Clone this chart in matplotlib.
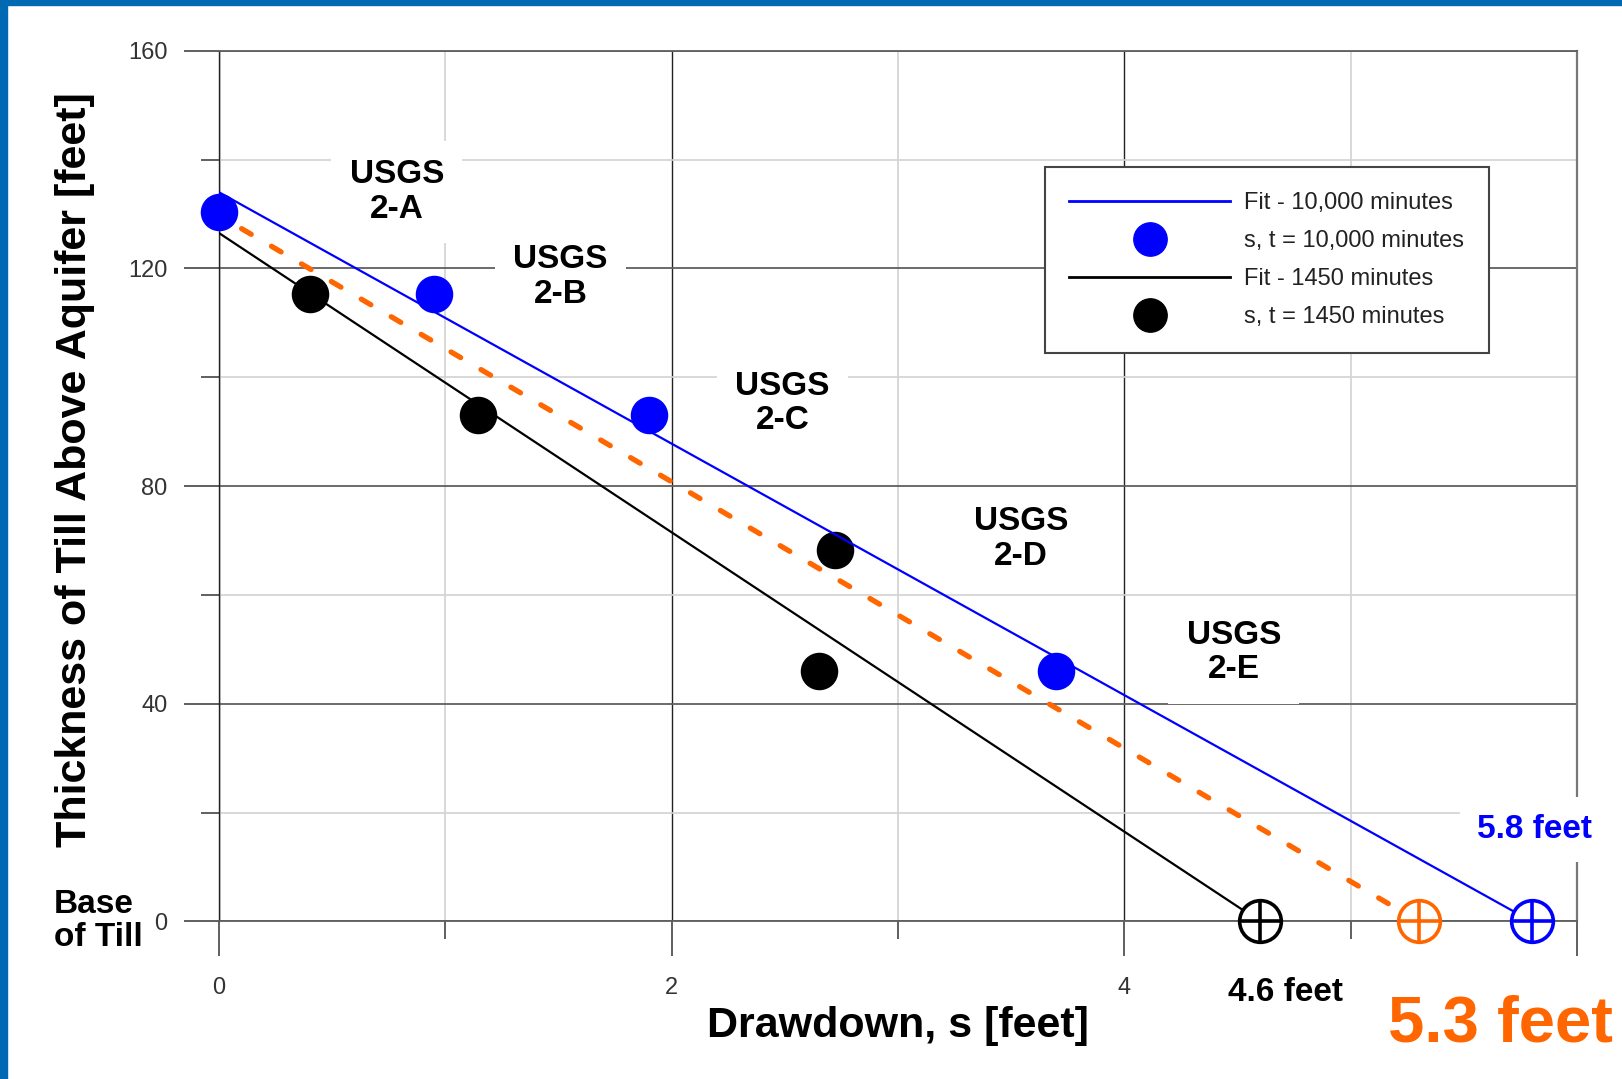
import matplotlib.pyplot as plt
from matplotlib.patches import Rectangle
from matplotlib.lines import Line2D
from matplotlib.ticker import MultipleLocator, FixedLocator

plt.rcParams['font.family'] = ['Liberation Sans', 'DejaVu Sans']
plt.rcParams['lines.scale_dashes'] = False

# observed drawdown vs. till thickness
s_10000 = [0.0, 0.95, 1.90, 3.70]
t_10000 = [130.4, 115.3, 93.1, 46.1]
s_1450 = [0.40, 1.145, 2.72, 2.65]
t_1450 = [115.3, 93.1, 68.3, 46.1]

# fitted lines (start point, base-of-till intercept)
fit_10000_s = [0.0, 5.8]
fit_10000_t = [134.0, 0.0]
fit_1450_s = [0.0, 4.6]
fit_1450_t = [126.5, 0.0]
fit_mid_s = [0.1, 5.3]
fit_mid_t = [127.3, 0.0]

# drawdown at base of till
base_s = [4.6, 5.3, 5.8]
base_labels = ['4.6 feet', '5.3 feet', '5.8 feet']
base_colors = ['black', '#ff6600', '#0000ff']

wells = ['USGS\n2-A', 'USGS\n2-B', 'USGS\n2-C', 'USGS\n2-D', 'USGS\n2-E']
well_x = [0.786, 1.509, 2.49, 3.542, 4.483]
well_y = [134.0, 118.4, 95.2, 70.3, 49.4]

fig = plt.figure(figsize=(16.22, 10.79), dpi=100)
ax = fig.add_axes([0.1350, 0.1460, 0.8373, 0.8070])

# frame strips
fig.patches.append(Rectangle((0, 1 - 5 / 1079), 1, 5 / 1079, transform=fig.transFigure,
                             color='#0069b4', zorder=10))
fig.patches.append(Rectangle((0, 0), 7 / 1622, 1, transform=fig.transFigure,
                             color='#0069b4', zorder=10))

ax.set_xlim(0, 6)
ax.set_ylim(0, 160)
ax.xaxis.set_major_locator(FixedLocator([0, 2, 4, 6]))
ax.xaxis.set_minor_locator(FixedLocator([1, 3, 5]))
ax.set_xticklabels(['0', '2', '4', ''])
ax.yaxis.set_major_locator(MultipleLocator(40))
ax.yaxis.set_minor_locator(FixedLocator([20, 60, 100, 140]))

ax.set_axisbelow(True)
ax.grid(True, which='major', axis='y', color='#5f5f5f', lw=1.3)
ax.grid(True, which='major', axis='x', color='#222222', lw=1.0)
ax.grid(True, which='minor', color='#d2d2d2', lw=1.2)
for side in ['top', 'bottom']:
    ax.spines[side].set_color('#5f5f5f')
    ax.spines[side].set_linewidth(1.3)
ax.spines['left'].set_color('#222222')
ax.spines['left'].set_linewidth(1.0)
ax.spines['right'].set_color('#777777')
ax.spines['right'].set_linewidth(1.6)

ax.tick_params(axis='both', which='major', length=25, width=1.2, color='#444444',
               labelsize=17, labelcolor='#333333')
ax.tick_params(axis='both', which='minor', length=13, width=1.2, color='#444444')
ax.tick_params(axis='y', which='major', pad=12)
ax.tick_params(axis='x', which='major', pad=15)

ax.plot(s_10000, t_10000, 'o', color='#0000ff', ms=26, zorder=3, clip_on=False)
ax.plot(s_1450, t_1450, 'o', color='black', ms=26, zorder=3, clip_on=False)
ax.plot(fit_mid_s, fit_mid_t, color='#ff6600', lw=3.8, dashes=(8, 17),
        dash_capstyle='round', zorder=3.5)
ax.plot(fit_1450_s, fit_1450_t, color='black', lw=1.6, zorder=4)
ax.plot(fit_10000_s, fit_10000_t, color='#0000ff', lw=1.6, zorder=4)

for s, c in zip(base_s, base_colors):
    ax.plot([s], [0], 'o', ms=30, mfc='white', mec=c, mew=2.6, zorder=5, clip_on=False)
    ax.plot([s], [0], '+', ms=30, color=c, mew=2.6, zorder=5, clip_on=False)

for name, x, y in zip(wells, well_x, well_y):
    ax.text(x, y, name, fontsize=24, fontweight='bold', ha='center', va='center',
            linespacing=1.15, zorder=1.5,
            bbox=dict(boxstyle='square,pad=0.55', fc='white', ec='none'))

ax.text(5.812, 16.9, base_labels[2], color=base_colors[2], fontsize=24, fontweight='bold',
        ha='center', va='center', zorder=3,
        bbox=dict(boxstyle='square,pad=0.5', fc='white', ec='none'))
ax.text(4.713, -13.1, base_labels[0], color=base_colors[0], fontsize=24, fontweight='bold',
        ha='center', va='center', clip_on=False)
ax.text(5.663, -19.0, base_labels[1], color=base_colors[1], fontsize=47, fontweight='bold',
        ha='center', va='center', clip_on=False)

fig.text(75 / 1622, 1 - 470 / 1079, 'Thickness of Till Above Aquifer [feet]', rotation=90,
         fontsize=31, fontweight='bold', ha='center', va='center')
fig.text(898 / 1622, 1 - 1026 / 1079, 'Drawdown, s [feet]', fontsize=31, fontweight='bold',
         ha='center', va='center')
fig.text(54 / 1622, 1 - 921 / 1079, 'Base\nof Till', fontsize=24, fontweight='bold',
         ha='left', va='center', linespacing=1.1)

handles = [
    Line2D([], [], color='#0000ff', lw=2),
    Line2D([], [], ls='none', marker='o', color='#0000ff', ms=24),
    Line2D([], [], color='black', lw=2),
    Line2D([], [], ls='none', marker='o', color='black', ms=24),
]
labels = ['Fit - 10,000 minutes', 's, t = 10,000 minutes',
          'Fit - 1450 minutes', 's, t = 1450 minutes']
leg = ax.legend(handles, labels, loc='upper left', bbox_to_anchor=(0.608, 0.866),
                borderaxespad=0, fontsize=17, handlelength=6.8, handletextpad=0.6,
                labelspacing=0.68, borderpad=1.05, fancybox=False, framealpha=1)
leg.get_frame().set_edgecolor('#444444')
leg.get_frame().set_linewidth(1.5)
for t in leg.get_texts():
    t.set_color('#222222')

fig.savefig('out.png', dpi=100)
